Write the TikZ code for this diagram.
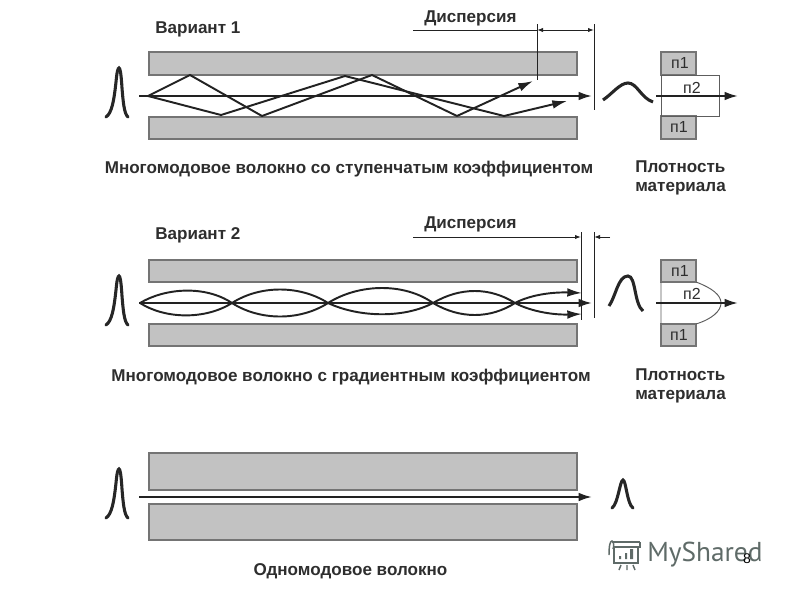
\documentclass[tikz,border=0pt]{standalone}
\usepackage{fontspec}
\setmainfont{Liberation Sans}
\newfontfamily\logofont{PT Sans}
\usetikzlibrary{arrows.meta}
\definecolor{cladfill}{HTML}{C2C2C2}
\definecolor{cladedge}{HTML}{747474}
\definecolor{inkc}{HTML}{222222}
\definecolor{labelc}{HTML}{2E2E2E}
\definecolor{logoc}{HTML}{5F6B68}
\tikzset{
  clad/.style={draw=cladedge,fill=cladfill,line width=0.85pt},
  coreline/.style={draw=cladedge!80!black,line width=0.7pt},
  rayline/.style={draw=inkc,line width=1.45pt,line join=miter},
  axisray/.style={draw=inkc,line width=1.6pt,-{Latex[length=10pt,width=6.5pt]}},
  rayarrow/.style={draw=inkc,line width=1.45pt,-{Latex[length=11pt,width=6.5pt]}},
  pulseline/.style={draw=black!85,line width=2.3pt,line cap=round},
  thinline/.style={draw=inkc,line width=0.7pt},
  dimarrow/.style={draw=inkc,line width=0.7pt,{Latex[length=4.5pt,width=3.2pt]}-{Latex[length=4.5pt,width=3.2pt]}},
  dimtip/.style={draw=inkc,line width=0.7pt,-{Latex[length=4.5pt,width=3.2pt]}},
  captext/.style={font=\bfseries\fontsize{12.8pt}{15pt}\selectfont,text=labelc,inner sep=0pt,anchor=base},
  capleft/.style={captext,anchor=base west},
  idx/.style={font=\fontsize{12pt}{14pt}\selectfont,text=labelc,inner sep=0pt,anchor=base},
  pulsein/.pic={\draw[pulseline] (106,117) .. controls (112,113) and (114,100) .. (116,82) .. controls (117,71) and (118,68) .. (119,68) .. controls (120,68) and (121,72) .. (122,88) .. controls (123,100) and (124,114) .. (128,117);},
}
\begin{document}
\begin{tikzpicture}[x=0.75pt,y=-0.75pt]
\useasboundingbox[fill=white] (0,0) rectangle (800,600);
% --- variant 1
\draw[clad] (149,52) rectangle (577,75);
\draw[clad] (149,117) rectangle (577,139);
\draw[rayline] (148,96) -- (190,75) -- (262,116) -- (372,75) -- (457,116);
\draw[rayarrow] (457,116) -- (533,81);
\draw[rayline] (148,96) -- (221,115) -- (345,76) -- (504,116);
\draw[rayarrow] (504,116) -- (567,101);
\draw[axisray] (139,96) -- (592,96);
\pic at (0,0) {pulsein};
\node[capleft] (v1) at (155,33) {Вариант 1};
\node[capleft] (d1) at (424,22) {Дисперсия};
\draw[thinline] (413,30) -- (537,30);
\draw[thinline] (537,24) -- (537,80);
\draw[thinline] (594,24) -- (594,110);
\draw[dimarrow] (537,30) -- (594,30);
\draw[pulseline,line cap=butt] (603,100) .. controls (612,94) and (620,83) .. (628,83) .. controls (637,83) and (641,98) .. (653,102);
\node[captext] (c1) at (349,173) {Многомодовое волокно со ступенчатым коэффициентом};
\draw[clad] (661,52) rectangle (696,75);
\draw[clad] (661,116) rectangle (696,139);
\draw[coreline] (661,75) rectangle (719,116);
\draw[axisray] (656,96) -- (738,96);
\node[idx] (a1) at (680,68) {п1};
\node[idx] (a2) at (692,93) {п2};
\node[idx] (a3) at (679,132) {п1};
\node[capleft] (m1) at (635,172) {Плотность};
\node[capleft] (m2) at (635,191) {материала};
% --- variant 2
\draw[clad] (149,260) rectangle (577,282);
\draw[clad] (149,324) rectangle (577,346);
\draw[rayline] (140,303) .. controls (165,288) and (205,285) .. (232,303)
  .. controls (260,285) and (300,285) .. (328,303)
  .. controls (360,283) and (405,283) .. (433,303)
  .. controls (460,287) and (490,287) .. (515,303);
\draw[rayarrow] (515,303) .. controls (532,294) and (555,292) .. (582,293);
\draw[rayline] (140,303) .. controls (165,319) and (205,320) .. (232,303)
  .. controls (260,321) and (300,321) .. (328,303)
  .. controls (360,318) and (405,318) .. (433,303)
  .. controls (460,319) and (490,319) .. (515,303);
\draw[rayarrow] (515,303) .. controls (532,312) and (555,315) .. (582,314);
\draw[axisray] (139,303) -- (592,303);
\pic at (0,208) {pulsein};
\node[capleft] (v2) at (155,239) {Вариант 2};
\node[capleft] (d2) at (424,228) {Дисперсия};
\draw[dimtip] (413,237) -- (581,237);
\draw[dimtip] (610,237) -- (594,237);
\draw[thinline] (581.5,232) -- (581.5,320);
\draw[thinline] (594,232) -- (594,318);
\draw[pulseline,line cap=butt] (609,306) .. controls (616,296) and (618,276) .. (628,276) .. controls (636,276) and (634,304) .. (643,311);
\node[captext] (c2) at (351,381) {Многомодовое волокно с градиентным коэффициентом};
\draw[clad] (661,260) rectangle (696,282);
\draw[clad] (661,324) rectangle (696,346);
\draw[coreline] (661,282) -- (661,324) (696,282) .. controls (712,288) and (721,295) .. (721,303) .. controls (721,311) and (712,319) .. (696,324);
\draw[axisray] (656,303) -- (738,303);
\node[idx] (b1) at (680,276) {п1};
\node[idx] (b2) at (692,299) {п2};
\node[idx] (b3) at (679,340) {п1};
\node[capleft] (n1) at (635,380) {Плотность};
\node[capleft] (n2) at (635,399) {материала};
% --- single mode
\draw[clad] (149,453) rectangle (577,490);
\draw[clad] (149,504) rectangle (577,540);
\draw[axisray] (139,497) -- (592,497);
\pic at (0,401) {pulsein};
\draw[pulseline] (612,508) .. controls (618,504) and (620,480) .. (623,480) .. controls (626,480) and (627,504) .. (633,508);
\node[captext] (c3) at (350.5,575) {Одномодовое волокно};
% --- logo
\begin{scope}[draw=logoc,line width=1.1pt]
\draw (612,542) -- (640,542) (640,542) -- (640,547) -- (613,547);
\draw (609,555) .. controls (609,546) and (610,541) .. (612,541) .. controls (614,541) and (614,547) .. (613,549);
\draw (614,548) -- (614,563) -- (638,563) -- (638,547);
\draw (621,565) -- (619,570) (627,565) -- (627,570) (633,565) -- (635,570);
\fill[logoc] (619,556) rectangle (621,559) (625,553) rectangle (627,559) (630,549) rectangle (633,559);
\end{scope}
\node[font=\logofont\fontsize{20.5pt}{24pt}\selectfont,text=logoc,anchor=west,inner sep=0pt] (logo) at (647,555) {MyShared};
\node[font=\fontsize{10.5pt}{12pt}\selectfont,text=black,inner sep=0pt] (pg) at (747,558.5) {8};
\end{tikzpicture}
\end{document}
